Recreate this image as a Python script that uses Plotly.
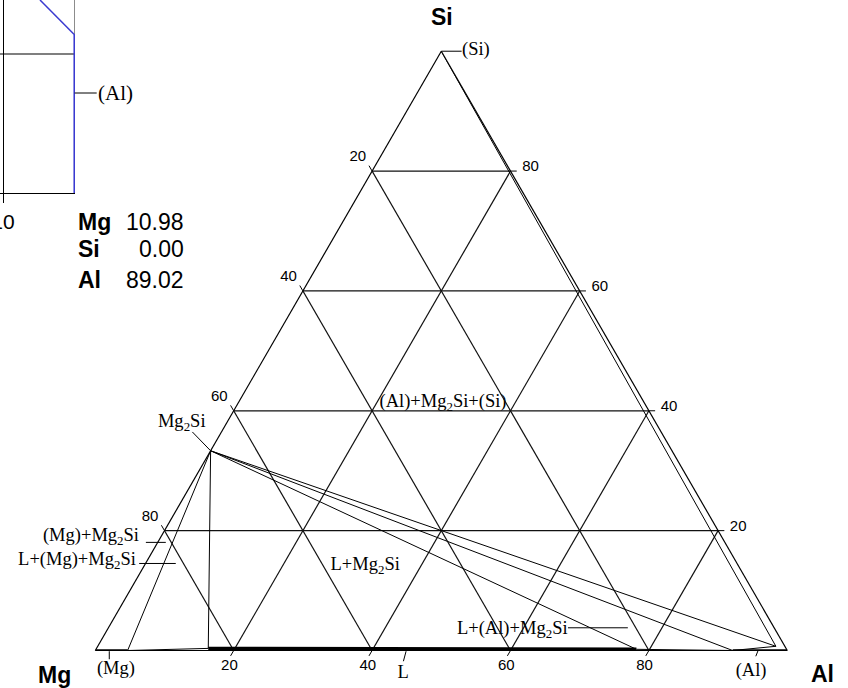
import plotly.graph_objects as go

W, H = 848, 688

# ---------------- ternary data: compositions given as (Si, Mg, Al) in at.% ----------------
CORNER_SI = (100.0, 0.0, 0.0)
CORNER_MG = (0.0, 100.0, 0.0)
CORNER_AL = (0.0, 0.0, 100.0)
MG2SI = (33.33, 66.67, 0.0)
MG_SS = (0.0, 95.33, 4.67)          # (Mg) solubility limit
L_MG_END = (0.35, 83.5, 16.15)      # liquid, Mg-rich end
L_AL_END = (0.2, 21.7, 78.1)        # liquid, Al-rich end
AL_SS_MG = (0.0, 7.9, 92.1)         # (Al) limit on Mg-Al side
AL_SS_SI = (0.7, 1.3, 98.0)         # (Al) corner of 3-phase triangles

THIN_BOUNDARIES = [
    (MG_SS, MG2SI), (MG_SS, L_MG_END), (MG2SI, L_MG_END),
    (MG2SI, L_AL_END), (MG2SI, AL_SS_MG), (MG2SI, AL_SS_SI),
    (CORNER_SI, AL_SS_SI), (L_AL_END, AL_SS_MG), (AL_SS_MG, AL_SS_SI),
]
MG_SS_REGION = [(CORNER_MG, MG_SS)]
LIQUID_REGION = [(L_MG_END, L_AL_END)]
AL_SS_REGION = [(AL_SS_MG, CORNER_AL)]

GRID_TICKS = [20, 40, 60, 80]
GRID_TICK_TEXT = ["20", "40", "60", "80"]
TICK_LEN = 0.9

PHASE_LABELS = ["(Si)", "Mg<sub>2</sub>Si", "(Mg)+Mg<sub>2</sub>Si", "L+(Mg)+Mg<sub>2</sub>Si",
                "(Mg)", "L", "(Al)", "L+(Al)+Mg<sub>2</sub>Si",
                "(Al)+Mg<sub>2</sub>Si+(Si)", "L+Mg<sub>2</sub>Si"]
PHASE_LABEL_SI = [100.2, 38.0, 18.99, 14.97, -3.13, -3.79, -3.47, 3.57, 41.45, 14.13]
PHASE_LABEL_MG = [-5.1, 68.51, 91.13, 95.16, 98.58, 57.41, 6.97, 37.96, 29.03, 53.93]
PHASE_LABEL_AL = [4.9, -6.51, -10.12, -10.13, 4.55, 46.38, 96.5, 58.47, 29.52, 31.94]

LEADERS = [
    ((100.0, -2.94, 2.94), CORNER_SI),
    ((36.47, 67.74, -4.21), MG2SI),
    ((18.04, 83.67, -1.71), (18.04, 80.79, 1.17)),
    ((14.52, 86.4, -0.92), (14.52, 81.11, 4.37)),
    ((-1.46, 98.71, 2.75), (-0.12, 98.04, 2.08)),
    ((-1.79, 56.37, 45.42), (-0.12, 55.15, 44.97)),
    ((-0.96, 5.03, 95.93), (0.0, 4.22, 95.78)),
    ((3.79, 29.8, 66.41), (3.79, 21.15, 75.06)),
]

# ---------------- inset (section) data ----------------
INSET_TICKS = [10]
INSET_TICK_TEXT = ["10"]
SOLVUS_X = [17.17, 17.17]
SOLVUS_T = [350, 628.4]
UPPER_X = [13.7, 17.17]
UPPER_T = [690, 628.4]
EDGE_X = [17.2, 17.2]
EDGE_T = [628.4, 690]
ISO_X = [9.7, 17.17]
ISO_T = [595, 595]
AL_LABEL_X, AL_LABEL_T = 17.17, 526.4

COMPOSITION_NAMES = ["Mg", "Si", "Al"]
COMPOSITION_VALUES = ["10.98", "0.00", "89.02"]

SERIF = "Liberation Serif"
SANS = "Liberation Sans"

# triangle placement (pixels) shared by the ternary subplot and the overlay axes
TRI_LEFT, TRI_WIDTH, TRI_BASE = 95.3, 692.0, 650.5
TRI_HEIGHT = TRI_WIDTH * 0.8660254
SQ = 0.8660254


def proj(p):
    si, mg, al = p
    s = si + mg + al
    return (al + si / 2.0) * 100.0 / s, si * SQ * 100.0 / s


fig = go.Figure()


def ternary_segments(segments, width):
    a, b, c = [], [], []
    for p, q in segments:
        a += [p[0], q[0], None]
        b += [p[1], q[1], None]
        c += [p[2], q[2], None]
    return go.Scatterternary(a=a, b=b, c=c, mode="lines", connectgaps=False,
                             line=dict(color="black", width=width),
                             hoverinfo="skip", showlegend=False)


def overlay_segments(segments, width):
    x, y = [], []
    for p, q in segments:
        (x1, y1), (x2, y2) = proj(p), proj(q)
        x += [x1, x2, None]
        y += [y1, y2, None]
    return go.Scatter(x=x, y=y, mode="lines", connectgaps=False, xaxis="x2", yaxis="y2",
                      line=dict(color="black", width=width), cliponaxis=False,
                      hoverinfo="skip", showlegend=False)


fig.add_trace(ternary_segments(THIN_BOUNDARIES, 1))
fig.add_trace(ternary_segments(MG_SS_REGION, 2.5))
fig.add_trace(ternary_segments(LIQUID_REGION, 3.5))
fig.add_trace(ternary_segments(AL_SS_REGION, 2.5))

# tick marks (extensions of the grid lines beyond the edges)
tick_segments = []
for v in GRID_TICKS:
    tick_segments.append(((100 - v, v, 0), (100 - v + TICK_LEN, v, -TICK_LEN)))
    tick_segments.append(((v, 0, 100 - v), (v, -TICK_LEN, 100 - v + TICK_LEN)))
    tick_segments.append(((0, 100 - v, v), (-TICK_LEN, 100 - v + TICK_LEN, v)))
fig.add_trace(overlay_segments(tick_segments, 1))
fig.add_trace(overlay_segments(LEADERS, 1))

# tick labels
tx, ty, tt = [], [], []
for v, s in zip(GRID_TICKS, GRID_TICK_TEXT):
    for p in [(100 - v + 2.25, v + 0.95, -3.2),
              (v + 0.6, -3.2, 100 - v + 2.6),
              (-2.63, 100 - v + 1.93, v + 0.7)]:
        x, y = proj(p)
        tx.append(x)
        ty.append(y)
        tt.append(s)
fig.add_trace(go.Scatter(x=tx, y=ty, text=tt, mode="text", textposition="middle center",
                         xaxis="x2", yaxis="y2",
                         textfont=dict(family=SANS, size=15, color="black"),
                         cliponaxis=False, hoverinfo="skip", showlegend=False))

# phase labels
lx, ly = [], []
for p in zip(PHASE_LABEL_SI, PHASE_LABEL_MG, PHASE_LABEL_AL):
    x, y = proj(p)
    lx.append(x)
    ly.append(y)
fig.add_trace(go.Scatter(x=lx, y=ly, text=PHASE_LABELS, mode="text", textposition="middle center",
                         xaxis="x2", yaxis="y2",
                         textfont=dict(family=SERIF, size=18.5, color="black"),
                         cliponaxis=False, hoverinfo="skip", showlegend=False))

# inset traces
fig.add_trace(go.Scatter(x=ISO_X, y=ISO_T, mode="lines", line=dict(color="black", width=1.2),
                         hoverinfo="skip", showlegend=False, xaxis="x", yaxis="y"))
fig.add_trace(go.Scatter(x=EDGE_X, y=EDGE_T, mode="lines", line=dict(color="#666666", width=1.5),
                         hoverinfo="skip", showlegend=False, xaxis="x", yaxis="y"))
fig.add_trace(go.Scatter(x=UPPER_X, y=UPPER_T, mode="lines", line=dict(color="#3a3ad0", width=1.5),
                         hoverinfo="skip", showlegend=False, xaxis="x", yaxis="y"))
fig.add_trace(go.Scatter(x=SOLVUS_X, y=SOLVUS_T, mode="lines", line=dict(color="#3a3ad0", width=2.5),
                         hoverinfo="skip", showlegend=False, xaxis="x", yaxis="y"))

axis_common = dict(showgrid=True, gridcolor="#111111", gridwidth=1.2, dtick=20, tick0=0,
                   showticklabels=False, ticks="", linecolor="black", linewidth=1.2,
                   showline=True, min=0, title=dict(text=""))

annotations = [
    dict(text="<b>Si</b>", x=442 / W, y=1 - 17 / H),
    dict(text="<b>Mg</b>", x=54 / W, y=1 - 675 / H),
    dict(text="<b>Al</b>", x=822.5 / W, y=1 - 674 / H),
]
for a in annotations:
    a.update(xref="paper", yref="paper", showarrow=False, xanchor="center", yanchor="middle",
             font=dict(family=SANS, size=23, color="black"))

row_y = [221.5, 249.5, 279.5]
for name, val, yy in zip(COMPOSITION_NAMES, COMPOSITION_VALUES, row_y):
    annotations.append(dict(text=f"<b>{name}</b>", x=76 / W, y=1 - yy / H, xref="paper", yref="paper",
                            showarrow=False, xanchor="left", yanchor="middle",
                            font=dict(family=SANS, size=23, color="black")))
    annotations.append(dict(text=val, x=186 / W, y=1 - yy / H, xref="paper", yref="paper",
                            showarrow=False, xanchor="right", yanchor="middle",
                            font=dict(family=SANS, size=23, color="black")))

annotations.append(dict(text="(Al)", x=AL_LABEL_X, y=AL_LABEL_T, xref="x", yref="y",
                        showarrow=True, ax=41, ay=0, arrowhead=0, arrowwidth=1,
                        arrowcolor="black", standoff=0,
                        font=dict(family=SERIF, size=21, color="black")))

px_per_unit_x = TRI_WIDTH / 100.0
px_per_unit_y = TRI_HEIGHT / (100.0 * SQ)
x2_range = [-TRI_LEFT / px_per_unit_x, (W - TRI_LEFT) / px_per_unit_x]
y2_range = [-(H - TRI_BASE) / px_per_unit_y, TRI_BASE / px_per_unit_y]

hidden = dict(visible=False, showgrid=False, zeroline=False, showticklabels=False,
              fixedrange=True, automargin=False)

fig.update_layout(
    width=W, height=H,
    margin=dict(l=0, r=0, t=0, b=0, pad=0, autoexpand=False),
    paper_bgcolor="white", plot_bgcolor="rgba(0,0,0,0)",
    showlegend=False,
    ternary=dict(
        domain=dict(x=[TRI_LEFT / W, (TRI_LEFT + TRI_WIDTH) / W],
                    y=[1 - TRI_BASE / H, 1 - (TRI_BASE - TRI_HEIGHT) / H]),
        sum=100, bgcolor="rgba(0,0,0,0)",
        aaxis=axis_common, baxis=axis_common, caxis=axis_common,
    ),
    xaxis=dict(domain=[0, 75 / W], range=[9.7, 17.2], showline=True, linecolor="black",
               linewidth=1, ticks="outside", ticklen=9, tickcolor="black",
               tickvals=INSET_TICKS, ticktext=INSET_TICK_TEXT, showgrid=True,
               gridcolor="black", gridwidth=1, zeroline=False, ticklabeloverflow="allow",
               automargin=False,
               tickfont=dict(family=SANS, size=21, color="black"), fixedrange=True),
    yaxis=dict(domain=[1 - 193.3 / H, 1], range=[350, 690], showline=False, showgrid=False,
               zeroline=False, showticklabels=False, ticks="", fixedrange=True, automargin=False),
    xaxis2=dict(domain=[0, 1], range=x2_range, anchor="y2", **hidden),
    yaxis2=dict(domain=[0, 1], range=y2_range, anchor="x2", **hidden),
    annotations=annotations,
)

fig.write_html("out.html", config={"displayModeBar": False, "staticPlot": True},
               post_script="document.body.style.margin='0px';")
